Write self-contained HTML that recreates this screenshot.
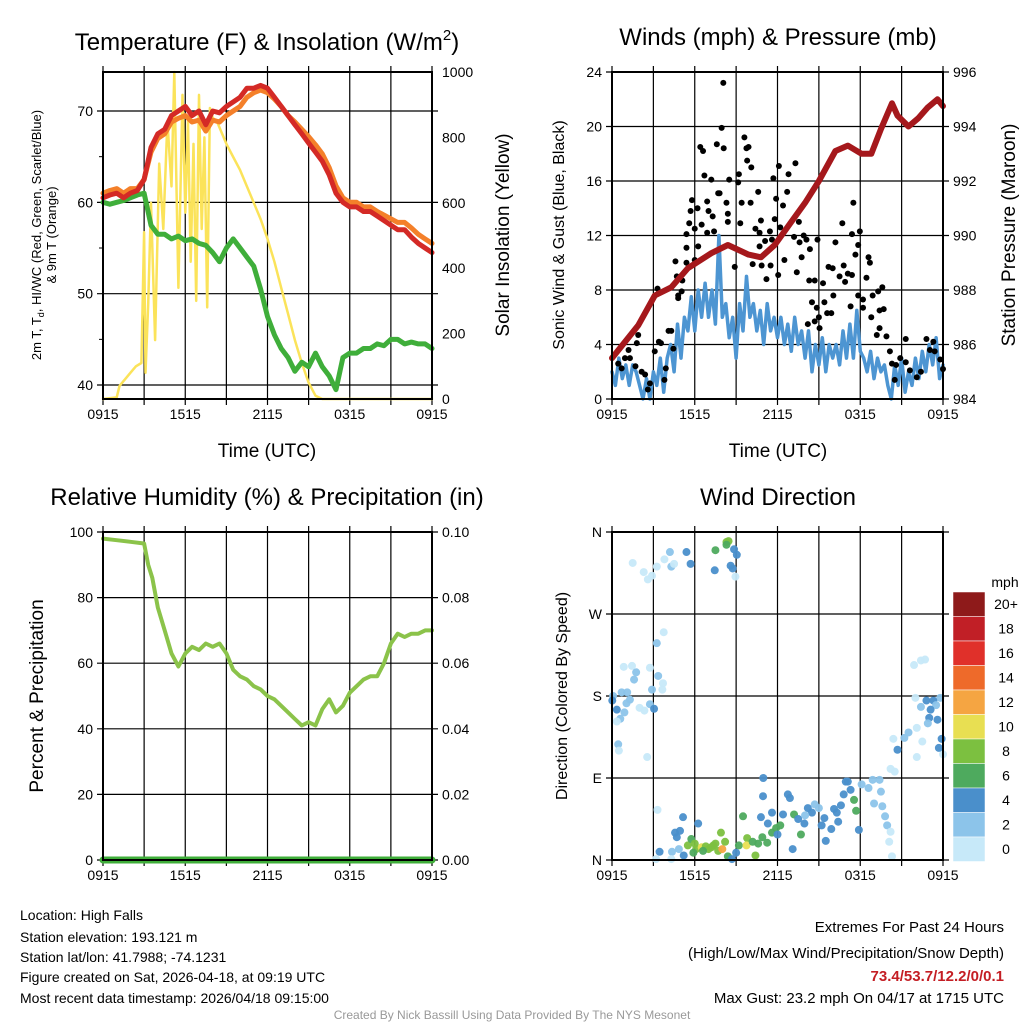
<!DOCTYPE html>
<html><head><meta charset="utf-8">
<style>
html,body{margin:0;padding:0;background:#fff;}
svg{display:block;font-family:"Liberation Sans",sans-serif;}
</style></head>
<body>
<svg id="c" width="1024" height="1024" viewBox="0 0 1024 1024" xmlns="http://www.w3.org/2000/svg">
<g id="texts">
<text x="267" y="50" font-size="24" text-anchor="middle">Temperature (F) &amp; Insolation (W/m<tspan font-size="15" dy="-10">2</tspan><tspan dy="10">)</tspan></text>
<text x="778" y="45" font-size="24" text-anchor="middle">Winds (mph) &amp; Pressure (mb)</text>
<text x="267" y="505" font-size="24" text-anchor="middle">Relative Humidity (%) &amp; Precipitation (in)</text>
<text x="778" y="505" font-size="24" text-anchor="middle">Wind Direction</text>
<text x="267" y="457" font-size="19" text-anchor="middle">Time (UTC)</text>
<text x="778" y="457" font-size="19" text-anchor="middle">Time (UTC)</text>
<g transform="translate(41,235) rotate(-90)"><text x="0" y="0" font-size="13" text-anchor="middle">2m T, T<tspan font-size="9" dy="3">d</tspan><tspan dy="-3">, HI/WC (Red, Green, Scarlet/Blue)</tspan></text><text x="0" y="15" font-size="13" text-anchor="middle">&amp; 9m T (Orange)</text></g>
<text transform="translate(509,235) rotate(-90)" font-size="19" text-anchor="middle">Solar Insolation (Yellow)</text>
<text transform="translate(564,235) rotate(-90)" font-size="16" text-anchor="middle">Sonic Wind &amp; Gust (Blue, Black)</text>
<text transform="translate(1015,235) rotate(-90)" font-size="19" text-anchor="middle">Station Pressure (Maroon)</text>
<text transform="translate(43,696) rotate(-90)" font-size="19" text-anchor="middle">Percent &amp; Precipitation</text>
<text transform="translate(567,696) rotate(-90)" font-size="16" text-anchor="middle">Direction (Colored By Speed)</text>
<g font-size="14">
<text x="20" y="920">Location: High Falls</text>
<text x="20" y="942">Station elevation: 193.121 m</text>
<text x="20" y="962">Station lat/lon: 41.7988; -74.1231</text>
<text x="20" y="982">Figure created on Sat, 2026-04-18, at 09:19 UTC</text>
<text x="20" y="1003">Most recent data timestamp: 2026/04/18 09:15:00</text>
</g>
<g font-size="15" text-anchor="end">
<text x="1004" y="932">Extremes For Past 24 Hours</text>
<text x="1004" y="958">(High/Low/Max Wind/Precipitation/Snow Depth)</text>
<text x="1004" y="981" fill="#c41e24" font-weight="bold">73.4/53.7/12.2/0/0.1</text>
<text x="1004" y="1003">Max Gust: 23.2 mph On 04/17 at 1715 UTC</text>
</g>
<text x="512" y="1019" font-size="12" fill="#999" text-anchor="middle">Created By Nick Bassill Using Data Provided By The NYS Mesonet</text>
<text x="1005" y="587" font-size="14" text-anchor="middle">mph</text>
</g>
<g id="plots"></g>
</svg>
<script>
// ---- data ----
const xTickLabels = ["0915","1515","2115","0315","0915"];
const tTime = [0,0.5,1,1.5,2,2.5,3,3.5,4,4.5,5,5.5,6,6.5,7,7.5,8,8.5,9,9.5,10,10.5,11,11.5,12,12.5,13,13.5,14,14.5,15,15.5,16,16.5,17,17.5,18,18.5,19,19.5,20,20.5,21,21.5,22,22.5,23,23.5,24];
const temp2m = [60.5,60.8,61,60.5,61,61.3,62.5,66,67.5,68,69.5,70,70.5,69.5,70,68.5,70,69.8,70.5,71,71.5,72.5,72.5,72.8,72.5,71.5,70.5,69.5,68.5,67.5,66.5,65.5,64.5,63,61,60,59.5,59.5,59,59,58.5,58,57.5,57,57,56.2,55.5,55,54.5];
const temp9m = [61,61.3,61.5,61,61.5,61.5,62.5,65.5,67,67.5,68.8,69.2,69.5,68.8,69,67.8,69,68.8,69.5,70,70.5,71.5,72,72.3,72,71.3,70.5,69.5,68.8,68,67.2,66.3,65.3,63.8,61.8,60.5,60,60,59.5,59.5,59,58.6,58.2,57.8,57.8,57.2,56.5,56,55.5];
const dewpt = [60,59.8,60,60.2,60.5,60.8,61,57.5,56.5,56.5,56,56.3,55.8,56,55.5,55.3,54.5,53.5,55,56,55,54,53,50.5,47.5,45.5,44,43,41.5,42.5,42,43.5,42,41,39.5,43,43.5,43.5,44,44,44.5,44.3,45,45,44.5,44.7,44.5,44.5,44];
const insTime = [0,1,1.2,1.6,2,2.4,2.8,3,3.1,3.3,3.5,3.8,4.1,4.4,4.7,5,5.2,5.5,5.8,6,6.2,6.4,6.6,6.8,7,7.2,7.4,7.6,7.8,8,8.3,8.6,9,9.5,10,10.5,11,11.5,12,12.5,13,13.5,14,14.5,15,15.5,16,20,24];
const insVal = [0,5,40,60,80,100,110,510,80,290,600,180,720,520,850,650,1000,340,930,570,850,420,780,300,930,520,800,280,890,860,850,820,780,740,700,650,600,550,490,420,340,260,180,110,50,10,0,0,0];
// sustained wind, every 15 minutes from 0915
const windSpd = [2,1,3,1.5,2.5,1,2.5,2,1,
0,1.5,0,2,1,3,0.5,3,
4,2,5.5,3,6,5,7.5,5,
8,6,8.5,6,8,5.5,12,6,
7,4.5,6,3,7,5,9,6,
7,5,6.5,4,7,5,6,4.5,
6,4,5.5,3.5,6,4,5,3,
5,2,4,2.5,4.5,2,4,3,
4,2.5,5,3,5.5,3,6.5,3.5,
3,2,3.5,1.5,3,2,2.5,1,
0,2.5,1,3,0.5,2,1,3,
1.5,3.5,2,4,2.5,4.5,1.5,2.5];
const gustTime = [8.07,7.95,6.4,6.6,7.6,8.1,9.6,9.75,9.9,9.8,10.1,6.7,7.2,8.5,9.2,9.15,12.1,11.7,12.8,13.3,7.7,7.8,8.3,9.4,10.05,10.6,11.9,12.7,17.5,5.8,6.9,6.2,7,7.3,8.4,5.7,5.6,6,6.5,6.9,7.4,8.4,9.3,10.8,10.4,10.7,11.8,12.2,12.4,13.55,11.45,11.1,10.7,11.6,13.2,13.9,14.1,14.35,14.9,13.6,16.7,16.2,17.4,17.97,17.85,17.65,5.4,5.4,6.25,6,5.4,4.6,4.7,5.1,8.9,10.2,10.85,11.5,12.5,13.75,13.4,12.05,11.2,15.7,16,16.8,16.5,17.1,16.9,17.4,18.6,18.7,18.45,14.3,14.7,15.3,16.05,15.4,14.5,14.85,15,15.6,15.9,14.2,14.7,15.05,17.85,18.2,18.2,17.3,18.9,19.3,19.6,18.8,19.4,19.7,19.4,19.9,19.2,4.8,4.8,5.05,3.3,3.4,3.55,4.1,4.3,4.45,3.1,3.9,3.8,1.9,1.8,1.2,0.94,1.3,0.45,0.7,1.7,2.15,2.4,2.75,2.6,20.15,20.3,20.6,20.9,21.3,21.3,21.6,22.1,22.4,22.8,23.05,23.3,23.4,23.8,24,20.5];
const gustVal = [23.2,19.9,18.5,18.2,18.7,18.4,19.2,18.4,18.5,17.5,17,16.4,16.1,16.1,16.5,15.9,17.1,16.2,16.5,17.3,15.1,15.1,14.4,14.4,14.4,15.2,14.7,15.2,14.4,14.6,14.5,14,13.8,13.4,13.6,13.8,12.9,12.5,12.8,12.2,12.3,13,12.9,13.1,12.5,12.2,13.2,12.6,14.2,13,12.3,11.6,11.2,11.7,11.9,12,11.7,11,11.7,11.5,12.9,11.5,12.1,12.3,11.3,10.6,12.1,11.1,11.2,10.2,10,10.1,9,8.7,9.7,9.9,9.8,9.8,10.2,10.4,9.3,9.1,8.8,9.7,9.6,9.8,9,9.2,8.6,9.1,10.4,10,8.9,8.7,8.7,8.5,7.6,7.1,7.1,6.7,6,6.3,6.3,5.5,5.7,5.2,7.6,7.3,6.7,6.8,7.6,7.9,8.2,6,6.5,6.6,5.2,4.6,4.7,7.6,7.4,7.9,8.1,4.2,4.1,5,5,3.7,3.5,2.25,1.4,4.7,4.1,3.6,3,3,2.6,2.25,2.4,2,1.8,1.15,0.7,3.5,2.6,2.5,3,2.7,4.4,2.1,1.6,2,4.4,3.6,4.2,3.5,2.9,2.2,1.4];
const presTime = [0,1.9,3.1,4.3,5.5,7.2,8.4,9.9,10.8,11.8,13,14,15,16.2,17.1,18.1,18.8,19.5,20.3,20.7,21.5,22.2,22.9,23.6,24];
const presVal = [985.5,986.7,987.8,988.1,988.8,989.35,989.65,989.3,989.2,989.65,990.5,991.2,992,993.1,993.3,993,993,993.9,994.85,994.4,994,994.3,994.7,995,994.75];
const rhTime = [0,1,2,3,3.3,3.6,4,4.5,5,5.5,6,6.5,7,7.5,8,8.5,9,9.5,10,10.5,11,11.5,12,12.5,13,13.5,14,14.5,15,15.5,16,16.5,17,17.5,18,18.5,19,19.5,20,20.5,21,21.5,22,22.5,23,23.5,24];
const rhVal = [98,97.5,97,96.5,90,86,77,70,63,59,63,65,64,66,65,66,63,58,56,55,53,52,50,49,47,45,43,41,42,41,46,49,45,47,51,53,55,56,56,60,66,69,68,69,69,70,70];
const precipTime = [0,24];
const precipVal = [0,0];
const dirTime = [4.57,4.93,5.15,4.85,4.35,3.45,5.5,5.75,6.1,6.5,7,7.35,7.7,8,7.9,6.25,8.4,8.7,9.2,9.8,9.75,9.5,10.4,10.6,11.25,11.6,10.8,10.95,10.97,11.6,11.9,12.4,12.75,12.9,13.1,13.2,13.7,13.95,14.2,14.7,15,15.4,15.5,15.9,16.1,16.3,16.6,16.95,17.1,17.3,17.55,17.7,17.9,18.1,18.6,18.9,19.4,19.5,19,19.6,19.8,19.95,20.2,20.1,20.3,3.2,4.3,3.3,5.2,
6,6.8,7.2,7.5,6.6,5.9,10.2,10.9,12.2,12,11.3,13.5,14.5,14,16.8,16.4,15.2,8.2,9,4.7,
20.4,20.7,21.2,20.5,20.2,22.1,22.5,23,23.6,23.9,24,23.7,22.1,22.8,23.8,22.4,23.3,23.5,22,21.9,22.4,22.7,23.1,22.9,21.5,
0.08,0.02,0.35,0.6,0.35,0.7,1.1,1.3,1.05,0.9,0.85,1.45,1.6,1.75,2,2.35,0.45,0.5,2.55,2.75,2.9,2.75,3.05,3.35,3.7,3.65,3.25,3.75,
1.5,2.3,2.6,2.9,3.25,3.8,4.2,4.3,4.5,5.4,5.7,7.5,7.45,8.3,8.45,8.3,8.85,9.05,8.6,8.75,8.95];
const dirVal = [30,32,47,12,9,9,16,23,12,14,12,16,10,12,30,40,4,1,16,24,16,48,5,18,19,30,47,70,90,52,35,50,72,68,12,50,28,40,57,61,57,46,21,34,56,52,60,86,86,77,66,54,33,83,79,88,88,75,62,59,48,38,31,20,4,1,1,55,5,
18,15,14,18,10,8,20,25,38,28,40,45,52,49,72,42,38,20,8,25,
133,121,134,97,100,145,130,156,154,133,116,123,113,175,178,168,175,170,178,214,219,220,165,150,140,
180,175,165,155,152,184,184,176,172,162,212,213,198,206,167,164,127,120,113,211,187,171,166,202,194,187,238,250,
326,316,308,312,322,330,338,322,325,338,325,340,318,349,350,346,341,335,323,320,311];
const dirSpd = [4,4,4,2,2,4,8,6,8,10,8,8,8,12,8,4,6,4,6,8,10,6,8,6,6,6,4,4,4,4,6,4,4,4,4,6,6,4,4,2,2,4,4,4,4,4,4,4,4,4,6,6,4,2,2,2,2,2,2,2,2,2,0,0,0,0,0,0,4,
8,8,8,8,6,6,6,6,6,4,4,4,4,2,4,4,4,8,4,4,
0,4,2,0,0,0,0,4,4,4,0,4,0,4,2,2,4,2,0,0,0,0,4,2,2,
2,4,4,2,0,2,2,2,2,2,0,0,2,2,0,0,2,0,0,0,2,2,4,2,0,0,2,0,
0,0,0,0,0,0,2,2,0,4,4,6,4,8,8,6,4,4,4,4,0];
const speedLabels = ["20+","18","16","14","12","10","8","6","4","2","0"];
const speedColors = ["#8e1a1a","#c11f26","#e0302a","#ee6a2a","#f5a542","#e8df52","#7cc040","#4eaa5e","#4a8fcb","#8cc4ea","#c7e9f9"];

// ---- helpers ----
const NS="http://www.w3.org/2000/svg";
const root=document.getElementById('plots');
function mk(tag,attrs,parent){const e=document.createElementNS(NS,tag);for(const k in attrs)e.setAttribute(k,attrs[k]);(parent||root).appendChild(e);return e;}
function scale(d0,d1,r0,r1){return v=>r0+(v-d0)/(d1-d0)*(r1-r0);}
function colorFor(s){const idx=Math.min(10,Math.round(s/2));return speedColors[10-idx];}

function frame(x0,x1,y0,y1,name,hGridVals,yS,leftTicks,leftLabels,rightTicks,rightLabels,xS,xLabels){
  const g=mk('g',{});
  
  
  for(let h=0;h<=24;h+=3){const x=xS(h);mk('line',{x1:x,x2:x,y1:y0-6,y2:y1+6,stroke:'#000','stroke-width':1.2},g);}
  hGridVals.forEach(v=>{const y=yS(v);mk('line',{x1:x0-6,x2:x1+6,y1:y,y2:y,stroke:'#000','stroke-width':1.2},g);});
  xLabels.forEach((t,i)=>{const tx=mk('text',{x:xS(i*6),y:y1+20,'font-size':14,'text-anchor':'middle'},g);tx.textContent=t;});
  leftLabels.forEach((t,i)=>{const tx=mk('text',{x:x0-10,y:leftTicks[i]+5,'font-size':14,'text-anchor':'end'},g);tx.textContent=t;});
  rightLabels.forEach((t,i)=>{const tx=mk('text',{x:x1+10,y:rightTicks[i]+5,'font-size':14,'text-anchor':'start'},g);tx.textContent=t;});
  return g;
}
function border(x0,x1,y0,y1){mk('rect',{x:x0,y:y0,width:x1-x0,height:y1-y0,fill:'none',stroke:'#000','stroke-width':2});}
function line(xs,ys,xS,yS,color,w,name){
  const d=xs.map((t,i)=>(i?'L':'M')+xS(t).toFixed(1)+','+yS(ys[i]).toFixed(1)).join('');
  const p=mk('path',{d:d,fill:'none',stroke:color,'stroke-width':w,'stroke-linejoin':'round','stroke-linecap':'round'});
  
  
  return p;
}

// ---- panel 1: temperature ----
{
const x0=103,x1=432,y0=72,y1=399;
const xS=scale(0,24,x0,x1), yS=scale(38.47,74.27,y1,y0), iS=scale(0,1000,y1,y0);
frame(x0,x1,y0,y1,'temp-grid',[40,50,60,70],yS,[40,50,60,70].map(yS),["40","50","60","70"],[0,200,400,600,800,1000].map(iS),["0","200","400","600","800","1000"],xS,xTickLabels);
[45,55,65].forEach(v=>mk('line',{x1:x0-4,x2:x0,y1:yS(v),y2:yS(v),stroke:'#000'}));
line(insTime,insVal,xS,iS,'#fbe35a',2.5,'insolation-line');
line(tTime,dewpt,xS,yS,'#3fae3a',5,'dewpoint-line');
line(tTime,temp9m,xS,yS,'#f4802a',5,'temp-9m-line');
line(tTime,temp2m,xS,yS,'#d42a26',5,'temp-2m-line');
border(x0,x1,y0,y1);
}
// ---- panel 2: winds ----
{
const x0=612,x1=943,y0=72,y1=399;
const xS=scale(0,24,x0,x1), yS=scale(0,24,y1,y0), pS=scale(984,996,y1,y0);
const lt=[0,4,8,12,16,20,24];
frame(x0,x1,y0,y1,'wind-grid',lt,yS,lt.map(yS),lt.map(String),[984,986,988,990,992,994,996].map(pS),["984","986","988","990","992","994","996"],xS,xTickLabels);
const wTime=windSpd.map((v,i)=>i*0.25);
line(wTime,windSpd,xS,yS,'#4d95d2',3.5,'wind-speed-line');
gustTime.forEach((t,i)=>{const c=mk('circle',{cx:xS(t),cy:yS(gustVal[i]),r:3,fill:'#000'});

});
line(presTime,presVal,xS,pS,'#a5181c',6,'pressure-line');
border(x0,x1,y0,y1);
}
// ---- panel 3: RH ----
{
const x0=103,x1=432,y0=532,y1=860;
const xS=scale(0,24,x0,x1), yS=scale(0,100,y1,y0), pS=scale(0,0.1,y1,y0);
const lt=[0,20,40,60,80,100];
frame(x0,x1,y0,y1,'rh-grid',lt,yS,lt.map(yS),lt.map(String),[0,0.02,0.04,0.06,0.08,0.1].map(pS),["0.00","0.02","0.04","0.06","0.08","0.10"],xS,xTickLabels);
line(rhTime,rhVal,xS,yS,'#8bc34a',4,'rh-line');
line(precipTime,precipVal,xS,pS,'#3fae3a',7,'precip-line');
border(x0,x1,y0,y1);
}
// ---- panel 4: wind direction ----
{
const x0=612,x1=943,y0=532,y1=860;
const xS=scale(0,24,x0,x1), yS=scale(0,360,y1,y0);
const lt=[0,90,180,270,360];
frame(x0,x1,y0,y1,'direction-grid',lt,yS,lt.map(yS),["N","E","S","W","N"],[],[],xS,xTickLabels);
dirTime.forEach((t,i)=>{const c=mk('circle',{cx:xS(t),cy:yS(dirVal[i]),r:4,fill:colorFor(dirSpd[i]),opacity:0.95});

});
border(x0,x1,y0,y1);
const cb=mk('g',{});


const bh=24.5;
speedColors.forEach((c,i)=>{mk('rect',{x:953,y:592+i*bh,width:32,height:bh,fill:c,stroke:'#fff','stroke-width':0.5},cb);
const tx=mk('text',{x:1006,y:592+i*bh+17,'font-size':14,'text-anchor':'middle'},cb);tx.textContent=speedLabels[i];});
}
</script>
</body></html>
